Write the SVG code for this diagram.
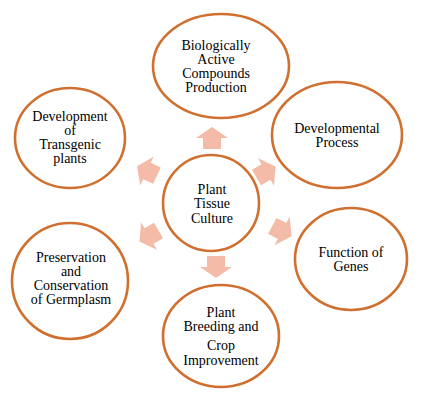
<svg xmlns="http://www.w3.org/2000/svg" width="436" height="400" viewBox="0 0 436 400">
<style>
.n{fill:#fff;stroke:#D07030;stroke-width:2.6}
.t{font-family:'Liberation Serif','DejaVu Serif','Times New Roman',serif;font-size:14px;fill:#000;text-anchor:middle}
.a{fill:#F3BBA8}
</style>
<defs>
<path id="arr" d="M-11,-9 H0 V-16 L11,0 L0,16 V9 H-11 Z"/>
</defs>
<rect width="436" height="400" fill="#fff"/>
<g id="connectors">
<use href="#arr" class="a" transform="translate(212,138) rotate(-90)"/>
<use href="#arr" class="a" transform="translate(266,172) rotate(-30)"/>
<use href="#arr" class="a" transform="translate(282,231) rotate(28)"/>
<use href="#arr" class="a" transform="translate(216,267) rotate(90)"/>
<use href="#arr" class="a" transform="translate(149,236) rotate(150)"/>
<use href="#arr" class="a" transform="translate(147,171) rotate(205)"/>
</g>
<g id="center">
<circle class="n" cx="211" cy="203" r="48"/>
<text class="t" x="212" y="194">Plant</text>
<text class="t" x="212" y="208">Tissue</text>
<text class="t" x="212" y="223">Culture</text>
</g>
<g id="bioactive">
<ellipse class="n" cx="221" cy="66" rx="68" ry="52"/>
<text class="t" x="216" y="50">Biologically</text>
<text class="t" x="216" y="64">Active</text>
<text class="t" x="216" y="78">Compounds</text>
<text class="t" x="216" y="92">Production</text>
</g>
<g id="developmental">
<ellipse class="n" cx="337" cy="135" rx="65" ry="53"/>
<text class="t" x="337" y="133">Developmental</text>
<text class="t" x="337" y="147">Process</text>
</g>
<g id="genes">
<ellipse class="n" cx="351" cy="259" rx="56" ry="51"/>
<text class="t" x="351" y="257">Function of</text>
<text class="t" x="351" y="271">Genes</text>
</g>
<g id="breeding">
<ellipse class="n" cx="221" cy="336" rx="58" ry="51"/>
<text class="t" x="221" y="317">Plant</text>
<text class="t" x="221" y="331">Breeding and</text>
<text class="t" x="221" y="350">Crop</text>
<text class="t" x="221" y="365">Improvement</text>
</g>
<g id="germplasm">
<ellipse class="n" cx="70" cy="281" rx="58" ry="58"/>
<text class="t" x="71" y="262">Preservation</text>
<text class="t" x="71" y="276">and</text>
<text class="t" x="71" y="290">Conservation</text>
<text class="t" x="71" y="304">of Germplasm</text>
</g>
<g id="transgenic">
<ellipse class="n" cx="70" cy="138" rx="55" ry="50"/>
<text class="t" x="70" y="121">Development</text>
<text class="t" x="70" y="135">of</text>
<text class="t" x="70" y="149">Transgenic</text>
<text class="t" x="70" y="163">plants</text>
</g>
</svg>
